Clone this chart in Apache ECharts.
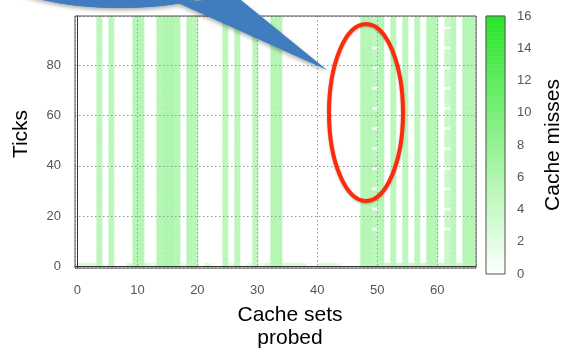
<!DOCTYPE html>
<html>
<head>
<meta charset="utf-8">
<script src="https://cdn.jsdelivr.net/npm/echarts@6/dist/echarts.min.js"></script>
<style>
  html, body { margin: 0; padding: 0; background: #fff; }
  #chart { width: 565px; height: 355px; }
</style>
</head>
<body>
<div id="chart"></div>
<script>
// Cache sets probed (x) and sampling ticks (y)
const cacheSets = Array.from({ length: 67 }, (_, i) => i);
const tickCount = 100;

// Misses per set during the steady part of the trace
const steadyMisses = [
  0, 0, 0, 0, 5, 0, 5, 0, 0, 0,
  5.5, 5.5, 0, 0, 5.5, 6, 6, 5.5, 0, 5.5,
  5, 0, 0, 0, 0, 5, 0, 5, 0, 0,
  5, 0, 0, 5.5, 5.5, 0, 0, 0, 0, 0,
  0, 0, 0, 0, 0, 0, 0, 0, 5.5, 5.5,
  5, 5.5, 0, 5, 0, 5, 0, 5, 0, 5.5,
  5.5, 0, 4, 5, 0, 5.5, 5.5
];

// Misses per set in the first two ticks
const startMisses = [
  2, 3, 3, 3, 5, 1, 5, 0, 0, 3,
  5.5, 5.5, 3, 2, 5.5, 6, 6, 5.5, 2, 5.5,
  5, 0, 3, 1, 0, 5, 2, 5, 0, 2,
  5, 1, 3, 5.5, 5.5, 3, 3, 3, 3, 1,
  0, 3, 3, 3, 2, 0, 0, 0, 5.5, 5.5,
  5, 5.5, 4, 5, 4, 5, 4, 5, 4, 5.5,
  5.5, 4, 4, 5, 4, 5.5, 5.5
];
const startTicks = 2;

// Sets that show no misses at these ticks
const quietSets = [50, 62];
const quietTicks = [15, 23, 31, 39, 47, 55, 63, 71, 79, 87, 95];

// Axis tick labels
const xTickLabels = [0, 10, 20, 30, 40, 50, 60];
const yTickLabels = [0, 20, 40, 60, 80];
const missTickLabels = [0, 2, 4, 6, 8, 10, 12, 14, 16];
const missMax = 16;

// Build [set, tick, misses] triples
const cells = [];
cacheSets.forEach(s => {
  for (let t = 0; t < tickCount; t++) {
    let v = t < startTicks ? startMisses[s] : steadyMisses[s];
    if (quietSets.includes(s) && quietTicks.includes(t)) v = 0;
    cells.push([s, t, v]);
  }
});

// Colour scale samples for the legend bar
const scaleSteps = [];
for (let v = 0; v < missMax; v += 0.25) scaleSteps.push([0, v, v + 0.125]);

const cellShift = 0.27;   // image columns sit slightly left of the set index
const font = 'Liberation Sans, Arial, sans-serif';
const calloutBlue = '#3f7dbf';

const chart = echarts.init(document.getElementById('chart'), null, { renderer: 'canvas' });

const tickLabel = (list) => (v) => (list.some(k => Math.abs(k - v) < 1e-6) ? String(Math.round(v)) : '');

chart.setOption({
  animation: false,
  backgroundColor: '#ffffff',
  grid: [
    { left: 75, right: 89, top: 16, bottom: 81, show: true, z: 5,
      backgroundColor: 'rgba(0,0,0,0)', borderColor: '#555', borderWidth: 1 },
    { left: 486, width: 20, top: 16, height: 258, show: true, z: 5,
      backgroundColor: 'rgba(0,0,0,0)', borderColor: '#555', borderWidth: 1 }
  ],
  visualMap: {
    type: 'continuous', show: false, min: 0, max: missMax, dimension: 2,
    seriesIndex: [0, 1],
    inRange: { color: ['#ffffff', '#28e628'] }
  },
  xAxis: [
    {
      gridIndex: 0, type: 'value', min: -0.4, max: 66.45, splitNumber: 7, z: 3,
      axisLine: { show: true, lineStyle: { color: '#333', width: 1 } },
      axisTick: { show: false },
      axisLabel: { color: '#555', fontFamily: font, fontSize: 13, margin: 16,
        showMinLabel: false, showMaxLabel: false, formatter: tickLabel(xTickLabels) },
      splitLine: { show: true, lineStyle: { color: '#999', type: [1.5, 2.5], width: 1 } },
      name: 'Cache sets\nprobed', nameLocation: 'middle', nameGap: 36,
      nameTextStyle: { color: '#000', fontFamily: font, fontSize: 21, lineHeight: 23,
        padding: [0, 0, 0, 29] }
    },
    {
      gridIndex: 1, type: 'value', min: 0, max: 1, show: false
    }
  ],
  yAxis: [
    {
      gridIndex: 0, type: 'value', min: -0.6, max: 99.6, splitNumber: 5, z: 3,
      axisLine: { show: true, lineStyle: { color: '#333', width: 1 } },
      axisTick: { show: false },
      axisLabel: { color: '#555', fontFamily: font, fontSize: 13, margin: 14,
        showMinLabel: false, showMaxLabel: false, formatter: tickLabel(yTickLabels) },
      splitLine: { show: true, lineStyle: { color: '#999', type: [1.5, 2.5], width: 1 } },
      name: 'Ticks', nameLocation: 'middle', nameGap: 43, nameRotate: 90,
      nameTextStyle: { color: '#000', fontFamily: font, fontSize: 21, padding: [0, 0, 0, 16] }
    },
    {
      gridIndex: 1, type: 'value', min: 0, max: missMax, interval: 2, position: 'right',
      axisLine: { show: false }, axisTick: { show: false }, splitLine: { show: false },
      axisLabel: { color: '#555', fontFamily: font, fontSize: 13, margin: 12,
        formatter: tickLabel(missTickLabels) },
      name: 'Cache misses', nameLocation: 'middle', nameGap: 38, nameRotate: 90,
      nameTextStyle: { color: '#000', fontFamily: font, fontSize: 21 }
    }
  ],
  series: [
    {
      type: 'custom', xAxisIndex: 0, yAxisIndex: 0, z: 2,
      data: cells,
      renderItem(params, api) {
        const s = api.value(0), t = api.value(1);
        const a = api.coord([s - 0.5 - cellShift, t + 0.5]);
        const b = api.coord([s + 0.5 - cellShift, t - 0.5]);
        const rect = echarts.graphic.clipRectByRect(
          { x: a[0], y: a[1], width: b[0] - a[0], height: b[1] - a[1] },
          { x: params.coordSys.x, y: params.coordSys.y,
            width: params.coordSys.width, height: params.coordSys.height });
        if (!rect) return;
        const c = api.visual('color');
        return { type: 'rect', shape: rect, style: { fill: c, stroke: c, lineWidth: 0.6 } };
      }
    },
    {
      type: 'custom', xAxisIndex: 1, yAxisIndex: 1, z: 2,
      data: scaleSteps,
      renderItem(params, api) {
        const v = api.value(1);
        const a = api.coord([0, v + 0.25]);
        const b = api.coord([1, v]);
        const c = api.visual('color');
        return { type: 'rect', shape: { x: a[0], y: a[1], width: b[0] - a[0], height: b[1] - a[1] },
          style: { fill: c, stroke: c, lineWidth: 0.6 } };
      }
    }
  ],
  graphic: [
    // speech-bubble callout
    { type: 'ellipse', z: 100, shape: { cx: 120, cy: -40, rx: 139, ry: 48 },
      style: { fill: calloutBlue, shadowBlur: 4, shadowColor: 'rgba(0,0,0,0.35)', shadowOffsetY: 2 } },
    { type: 'polygon', z: 100, shape: { points: [[178, 3], [327, 70], [236, -4]] },
      style: { fill: calloutBlue, shadowBlur: 4, shadowColor: 'rgba(0,0,0,0.35)', shadowOffsetY: 2 } },
    { type: 'ellipse', z: 101, shape: { cx: 120, cy: -40, rx: 139, ry: 48 },
      style: { fill: calloutBlue } },
    // highlight ring
    { type: 'ellipse', z: 102, shape: { cx: 366, cy: 112.5, rx: 37, ry: 88.5 },
      style: { fill: 'none', stroke: '#ff2a0a', lineWidth: 4,
        shadowBlur: 2, shadowColor: 'rgba(0,0,0,0.3)', shadowOffsetY: 1 } }
  ]
});
</script>
</body>
</html>
